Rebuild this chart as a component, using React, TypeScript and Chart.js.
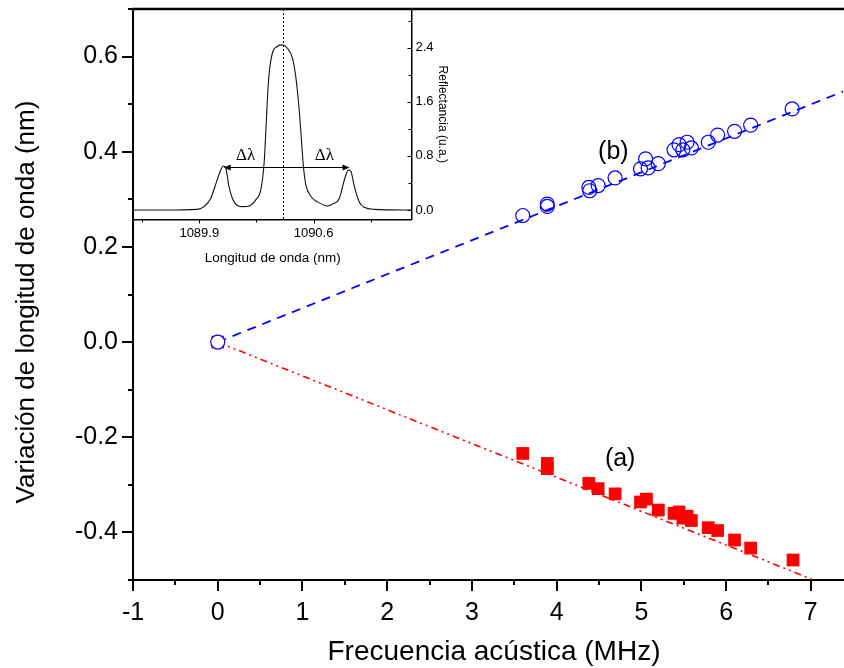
import React, { useEffect, useRef } from "react";
import { Chart, registerables } from "chart.js";
Chart.register(...registerables);

const FONT = "'Liberation Sans', Arial, sans-serif";
const SERIF = "'Liberation Serif', 'Times New Roman', serif";

// ---- main chart data ----
const freqA = [0, 3.6, 3.89, 3.89, 4.38, 4.49, 4.69, 4.99, 5.06, 5.2, 5.385, 5.445, 5.49, 5.54, 5.59, 5.79, 5.9, 6.1, 6.29, 6.79];
const shiftA = [0, -0.234, -0.255, -0.266, -0.297, -0.308, -0.319, -0.336, -0.33, -0.353, -0.36, -0.357, -0.37, -0.366, -0.375, -0.39, -0.396, -0.416, -0.433, -0.458];
const freqB = [0, 3.6, 3.89, 3.89, 4.38, 4.39, 4.49, 4.69, 4.99, 5.05, 5.08, 5.2, 5.385, 5.445, 5.49, 5.54, 5.59, 5.79, 5.9, 6.1, 6.29, 6.78];
const shiftB = [0, 0.266, 0.29, 0.285, 0.325, 0.318, 0.329, 0.345, 0.364, 0.385, 0.366, 0.375, 0.404, 0.415, 0.404, 0.42, 0.408, 0.42, 0.435, 0.443, 0.456, 0.49];
const fitX = [0, 7.4];
const fitA = [0, -0.526];
const fitB = [0, 0.528];
const xTickValues = [-1, -0.5, 0, 0.5, 1, 1.5, 2, 2.5, 3, 3.5, 4, 4.5, 5, 5.5, 6, 6.5, 7];
const yTickValues = [-0.5, -0.4, -0.3, -0.2, -0.1, 0, 0.1, 0.2, 0.3, 0.4, 0.5, 0.6, 0.7];
const seriesLabels = ["(a)", "(b)"];
const seriesLabelX = [4.75, 4.67];
const seriesLabelY = [-0.246, 0.4];
const xTitle = "Frecuencia acústica (MHz)";
const yTitle = "Variación de longitud de onda (nm)";

// ---- inset data ----
const wavelength = [1089.5, 1089.7, 1089.888, 1089.929, 1089.97, 1090.006, 1090.031, 1090.047, 1090.062, 1090.082, 1090.113, 1090.164, 1090.205, 1090.246, 1090.277, 1090.297, 1090.307, 1090.317, 1090.328, 1090.348, 1090.379, 1090.41, 1090.44, 1090.471, 1090.491, 1090.512, 1090.526, 1090.538, 1090.553, 1090.584, 1090.624, 1090.686, 1090.717, 1090.758, 1090.788, 1090.813, 1090.829, 1090.85, 1090.88, 1090.911, 1090.972, 1091.2];
const reflectance = [0, 0, 0.01, 0.05, 0.17, 0.42, 0.59, 0.65, 0.62, 0.345, 0.12, 0.05, 0.06, 0.15, 0.3, 0.69, 1.13, 1.63, 2.02, 2.32, 2.42, 2.44, 2.39, 2.24, 1.97, 1.48, 1.03, 0.64, 0.37, 0.2, 0.12, 0.06, 0.09, 0.17, 0.44, 0.59, 0.57, 0.345, 0.12, 0.04, 0.01, 0];
const insetXTicks = [1089.55, 1089.9, 1090.25, 1090.6, 1090.95];
const insetXLabels = [1089.9, 1090.6];
const insetYTicks = [0, 0.4, 0.8, 1.2, 1.6, 2.0, 2.4, 2.8];
const insetYLabels = [0, 0.8, 1.6, 2.4];
const centerWavelength = 1090.414;
const arrowFrom = 1090.05;
const arrowTo = 1090.82;
const arrowLevel = 0.64;
const deltaLabelX = [1090.184, 1090.666];
const deltaLabelY = 0.81;

const near = (a: number, b: number) => Math.abs(a - b) < 1e-6;

const mainDecor = {
  id: "mainDecor",
  afterDraw(chart: any) {
    const { ctx, chartArea: a, scales } = chart;
    const x = scales.x, y = scales.y;
    ctx.save();
    ctx.strokeStyle = "#000";
    ctx.lineWidth = 2.5;
    ctx.beginPath();
    ctx.moveTo(a.left - 1, a.top);
    ctx.lineTo(chart.width, a.top);
    ctx.stroke();
    ctx.lineWidth = 2;
    xTickValues.forEach((v) => {
      const major = near(v, Math.round(v));
      const px = Math.round(x.getPixelForValue(v));
      ctx.beginPath();
      ctx.moveTo(px, a.bottom);
      ctx.lineTo(px, a.bottom + (major ? 11 : 5));
      ctx.stroke();
    });
    yTickValues.forEach((v) => {
      const major = Math.round(v * 10) % 2 === 0;
      const py = Math.round(y.getPixelForValue(v));
      ctx.beginPath();
      ctx.moveTo(a.left, py);
      ctx.lineTo(a.left - (major ? 11 : 5), py);
      ctx.stroke();
    });
    ctx.fillStyle = "#000";
    ctx.textAlign = "center";
    ctx.textBaseline = "middle";
    ctx.font = `25px ${FONT}`;
    seriesLabels.forEach((s, i) => {
      ctx.fillText(s, x.getPixelForValue(seriesLabelX[i]), y.getPixelForValue(seriesLabelY[i]));
    });
    ctx.font = `28px ${FONT}`;
    ctx.fillText(xTitle, 494, 652);
    ctx.save();
    ctx.translate(27, 302);
    ctx.rotate(-Math.PI / 2);
    ctx.font = `26px ${FONT}`;
    ctx.fillText(yTitle, 0, 0);
    ctx.restore();
    ctx.restore();
  },
};

const insetDecor = {
  id: "insetDecor",
  afterDraw(chart: any) {
    const { ctx, chartArea: a, scales } = chart;
    const x = scales.x, y = scales.y;
    ctx.save();
    ctx.strokeStyle = "#000";
    ctx.lineWidth = 1;
    insetXTicks.forEach((v) => {
      const px = Math.round(x.getPixelForValue(v)) + 0.5;
      const major = insetXLabels.some((l) => near(l, v));
      ctx.beginPath();
      ctx.moveTo(px, a.bottom);
      ctx.lineTo(px, a.bottom + (major ? 4 : 3));
      ctx.stroke();
    });
    insetYTicks.forEach((v) => {
      const py = Math.round(y.getPixelForValue(v)) + 0.5;
      const major = insetYLabels.some((l) => near(l, v));
      ctx.beginPath();
      ctx.moveTo(a.right, py);
      ctx.lineTo(a.right - (major ? 4 : 3), py);
      ctx.stroke();
    });
    const cx = Math.round(x.getPixelForValue(centerWavelength)) + 0.5;
    ctx.setLineDash([2, 2]);
    ctx.beginPath();
    ctx.moveTo(cx, a.top);
    ctx.lineTo(cx, a.bottom);
    ctx.stroke();
    ctx.setLineDash([]);
    const ay = Math.round(y.getPixelForValue(arrowLevel)) + 0.5;
    const x1 = x.getPixelForValue(arrowFrom);
    const x2 = x.getPixelForValue(arrowTo);
    ctx.beginPath();
    ctx.moveTo(x1 + 5, ay);
    ctx.lineTo(x2 - 5, ay);
    ctx.stroke();
    ctx.fillStyle = "#000";
    ctx.beginPath();
    ctx.moveTo(x1, ay);
    ctx.lineTo(x1 + 7, ay - 3);
    ctx.lineTo(x1 + 7, ay + 3);
    ctx.closePath();
    ctx.fill();
    ctx.beginPath();
    ctx.moveTo(x2, ay);
    ctx.lineTo(x2 - 7, ay - 3);
    ctx.lineTo(x2 - 7, ay + 3);
    ctx.closePath();
    ctx.fill();
    ctx.font = `17px ${SERIF}`;
    ctx.textAlign = "center";
    ctx.textBaseline = "middle";
    deltaLabelX.forEach((v) => {
      ctx.fillText("\u0394\u03bb", x.getPixelForValue(v), y.getPixelForValue(deltaLabelY));
    });
    ctx.restore();
  },
};

export default function App() {
  const mainRef = useRef<HTMLCanvasElement>(null);
  const insetRef = useRef<HTMLCanvasElement>(null);

  useEffect(() => {
    const main = new Chart(mainRef.current!, {
      type: "scatter",
      data: {
        datasets: [
          {
            type: "scatter",
            data: freqB.map((v, i) => ({ x: v, y: shiftB[i] })),
            pointStyle: "circle",
            pointRadius: 7,
            borderColor: "#0000ff",
            backgroundColor: (c: any) => (c.dataIndex === 0 ? "#ffffff" : "rgba(0,0,0,0)"),
            borderWidth: 1.2,
            order: 0,
          },
          {
            type: "scatter",
            data: freqA.map((v, i) => ({ x: v, y: shiftA[i] })),
            pointStyle: "rect",
            pointRadius: 9,
            backgroundColor: "#ff0000",
            borderColor: "#ff0000",
            borderWidth: 0,
            order: 1,
          },
          {
            type: "line",
            data: fitX.map((v, i) => ({ x: v, y: fitB[i] })),
            borderColor: "#0000ff",
            borderWidth: 1.8,
            borderDash: [9, 7],
            pointRadius: 0,
            order: 2,
          },
          {
            type: "line",
            data: fitX.map((v, i) => ({ x: v, y: fitA[i] })),
            borderColor: "#ff0000",
            borderWidth: 1.6,
            borderDash: [7, 4, 2, 4, 2, 4],
            pointRadius: 0,
            order: 3,
          },
        ],
      },
      options: {
        animation: false,
        responsive: false,
        maintainAspectRatio: false,
        layout: { padding: { top: 8, left: 0, right: 0, bottom: 0 } },
        plugins: { legend: { display: false }, tooltip: { enabled: false } },
        scales: {
          x: {
            type: "linear",
            min: -1,
            max: 7.38,
            border: { display: true, color: "#000", width: 2 },
            grid: { display: true, drawOnChartArea: false, drawTicks: true, tickLength: 10, tickColor: "rgba(0,0,0,0)" },
            afterBuildTicks: (s: any) => {
              s.ticks = xTickValues.map((v) => ({ value: v }));
            },
            ticks: {
              autoSkip: false,
              maxRotation: 0,
              padding: 8,
              color: "#000",
              font: { family: FONT, size: 25 },
              callback: (v: any) => (near(v, Math.round(v)) ? String(Math.round(v)) : ""),
            },
            afterFit: (s: any) => {
              s.height = 88;
            },
          },
          y: {
            type: "linear",
            min: -0.5,
            max: 0.7,
            border: { display: true, color: "#000", width: 2 },
            grid: { display: true, drawOnChartArea: false, drawTicks: true, tickLength: 10, tickColor: "rgba(0,0,0,0)" },
            afterBuildTicks: (s: any) => {
              s.ticks = yTickValues.map((v) => ({ value: v }));
            },
            ticks: {
              autoSkip: false,
              padding: 5,
              color: "#000",
              font: { family: FONT, size: 25 },
              callback: (v: any) => {
                const k = Math.round(v * 10);
                if (k % 2 !== 0) return "";
                return (k / 10).toFixed(1).replace("-0.0", "0.0");
              },
            },
            afterFit: (s: any) => {
              s.width = 133;
              s.paddingTop = 0;
              s.paddingBottom = 0;
            },
          },
        },
      },
      plugins: [mainDecor],
    } as any);

    const inset = new Chart(insetRef.current!, {
      type: "line",
      data: {
        datasets: [
          {
            data: wavelength.map((v, i) => ({ x: v, y: reflectance[i] })),
            borderColor: "#111",
            borderWidth: 1.1,
            pointRadius: 0,
            cubicInterpolationMode: "monotone",
          },
        ],
      },
      options: {
        animation: false,
        responsive: false,
        maintainAspectRatio: false,
        layout: { padding: { top: 9, left: 34, right: 0, bottom: 0 } },
        plugins: { legend: { display: false }, tooltip: { enabled: false } },
        scales: {
          x: {
            type: "linear",
            min: 1089.5,
            max: 1091.2,
            border: { display: true, color: "#000", width: 1.5 },
            grid: { display: true, drawOnChartArea: false, drawTicks: false },
            afterBuildTicks: (s: any) => {
              s.ticks = insetXTicks.map((v) => ({ value: v }));
            },
            ticks: {
              autoSkip: false,
              maxRotation: 0,
              padding: 6,
              color: "#000",
              font: { family: FONT, size: 13 },
              callback: (v: any) => (insetXLabels.some((l) => near(l, v)) ? Number(v).toFixed(1) : ""),
            },
            title: {
              display: true,
              text: "Longitud de onda (nm)",
              color: "#000",
              font: { family: FONT, size: 13.5 },
              padding: { top: 0, bottom: 9 },
            },
            afterFit: (s: any) => {
              s.height = 55.5;
              s.paddingLeft = 0;
              s.paddingRight = 0;
            },
          },
          y: {
            type: "linear",
            position: "right",
            min: -0.14,
            max: 2.97,
            border: { display: true, color: "#000", width: 1.5 },
            grid: { display: true, drawOnChartArea: false, drawTicks: false },
            afterBuildTicks: (s: any) => {
              s.ticks = insetYTicks.map((v) => ({ value: v }));
            },
            ticks: {
              autoSkip: false,
              padding: 4,
              color: "#000",
              font: { family: FONT, size: 13 },
              callback: (v: any) => (insetYLabels.some((l) => near(l, v)) ? Number(v).toFixed(1) : ""),
            },
            title: {
              display: true,
              text: "Reflectancia (u.a.)",
              color: "#000",
              font: { family: FONT, size: 12 },
              padding: { top: 10, bottom: 0 },
            },
            afterFit: (s: any) => {
              s.width = 48.5;
              s.paddingTop = 0;
              s.paddingBottom = 0;
            },
          },
        },
      },
      plugins: [insetDecor],
    } as any);

    return () => {
      main.destroy();
      inset.destroy();
    };
  }, []);

  return (
    <div style={{ position: "fixed", left: 0, top: 0, width: 844, height: 668, background: "#fff", overflow: "hidden" }}>
      <canvas ref={mainRef} width={852} height={668} style={{ position: "absolute", left: 0, top: 0, width: 852, height: 668 }} />
      <canvas ref={insetRef} width={360} height={275} style={{ position: "absolute", left: 100, top: 0, width: 360, height: 275 }} />
    </div>
  );
}
